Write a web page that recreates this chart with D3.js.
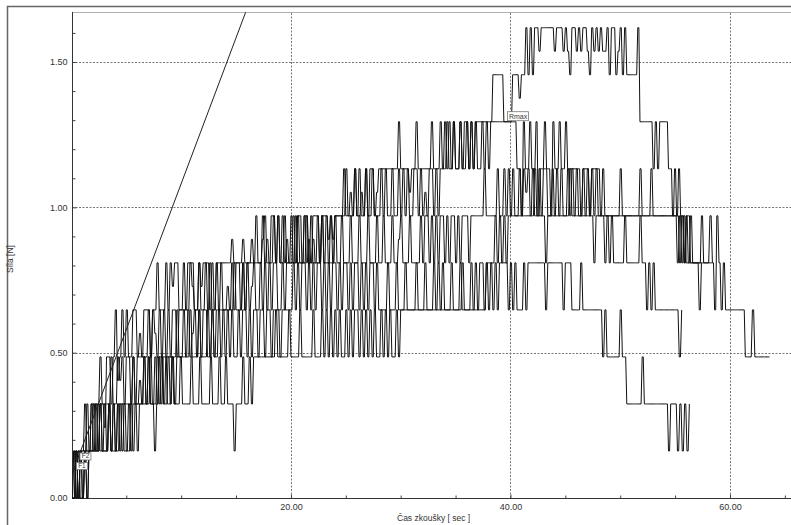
<!DOCTYPE html>
<html><head><meta charset="utf-8">
<script src="https://cdn.jsdelivr.net/npm/d3@7"></script>
<style>
body{margin:0;background:#fff;}
svg{display:block;font-family:"Liberation Sans",Arial,sans-serif;}
</style>
</head><body>
<svg id="c" width="791" height="525"></svg>
<script>
// ---------------- data ----------------
const LEVEL_STEP = 0.1618;            // force quantisation step [N]
const xMajorTicks = [20, 40, 60];
const xMinorTicks = [5, 10, 15, 25, 30, 35, 45, 50, 55, 65];
const yMajorTicks = [0, 0.5, 1.0, 1.5];
const yMinorTicks = [0.1, 0.2, 0.3, 0.4, 0.6, 0.7, 0.8, 0.9, 1.1, 1.2, 1.3, 1.4, 1.6];
const xTitle = "Čas zkoušky [ sec ]";
const yTitle = "Síla [N]";

// each record: [segment start time (s), level indices]
// '0'-'9' = level 0-9, 'a' = level 10, 'A'-'J' = half levels 0.5 … 9.5
const curveA = [
  [0, "001011121222"], [2.4, "232B33234C34343"], [5.4, "3443D34443445"],
  [8, "444545E554454555445E55545455"], [13.6, "55555F5555F555F55"],
  [17, "5565F56656565F565566565F56665656F6566"], [24.4, "66676G67676676776G77"],
  [28.4, "777777787777G77877777787778787878"], [35, "77878878788888888"],
  [38.4, "99999"], [39.4, "8888"], [40.2, "999I9"], [41.2, "9a9a9aaJaa"], [43.2, "aaaaJaa"],
  [44.6, "aJaJ9aaJaJaaJ9aJaJaJJa9aa"], [49.6, "9Ja9a"], [50.6, "99999a"],
  [51.8, "8888887878888"], [54.4, "776767"], [55.5, "66566"], [56.4, "5555565555"],
  [58.4, "5465454"], [59.8, "444444443"], [61.6, "3343333333"]
];
const curveAEnd = 63.6;

const curveB = [
  [0, "010111211212122"], [3, "2223223C323323233"], [6.4, "333434D34343434434"],
  [10, "44445E445445454454544E45455454"], [16, "5555655F6555656556555656556656556566656F"],
  [24, "666676666766G67667666767667667"], [30, "67676677676G67767677"],
  [34, "7877877877878787787878888"], [39, "88888888"],
  [40.6, "7768778778677877687787787"], [45.4, "77777677767777"], [48.2, "6656565"],
  [49.6, "5555655555565"], [52.2, "5454544"], [53.6, "4444444434"]
];
const curveBEnd = 55.6;

const curveC = [
  [0, "00101011"], [1.6, "11212112121212222"], [5, "222322C2323223233233"],
  [9, "3334334343D43434433434444"], [14, "444454445454E54454545455445455"],
  [20, "5565555655F55565555565565556555655565556556555655F65556555"],
  [31.6, "565665656566565665656665666"], [37, "66676666"],
  [38.6, "67667676766767G76676767766767676676767667676767667"],
  [48.6, "66666667666666666666676666666666"], [55, "65656556"], [56.6, "555555565"]
];
const curveCEnd = 58.4;

const curveD = [
  [0, "0010101011"], [2, "11121112121121212122"], [6, "22222322232322323233"],
  [10, "3333433343334343343434343"], [15, "3434434344344344344434444"],
  [20, "4545455454545545454554545545455454545545"],
  [28, "4444544454445444454445444544454445444454"], [36, "4454545"],
  [37.4, "5455556565656"],
  [40, "6666666666766666566666666667666666666656666666666666666666676666666666666666"],
  [55.2, "6565655"], [56.6, "55545"]
];
const curveDEnd = 57.4;

const curveE = [
  [0, "0101001011"], [2, "111211121112121112121"],
  [6.2, "22322321232332232223222232223222232223223222122232"], [16, "2323333"],
  [17.4, "3333334333334333343333343334343434343343434434343434334343433"],
  [29.6, "434444444444444444454444444445444444444"], [37.4, "44545454555"],
  [39.6, "545454445455"], [42, "555555455555554555"], [45.6, "4444544444444"],
  [48.2, "43433333343"], [50.4, "322"], [51, "22222322222222222122"], [55, "2121212"]
];
const curveEEnd = 56.3;

// regression (modulus) line through F1-F2: [time, force]
const modulusLine = [[-0.77, 0], [16.6, 1.744]];
// labelled points
const markerLabels = ["F1", "F2", "Rmax"];
const markerTimes  = [0.46, 0.78, 39.74];
const markerForces = [0.122, 0.155, 1.329];

// ---------------- helpers ----------------
function levelOf(c) {
  if (c === "a") return 10;
  if (c >= "A" && c <= "J") return c.charCodeAt(0) - 65 + 0.5;
  return +c;
}
function expand(segs, tEnd) {
  const pts = [];
  segs.forEach((s, i) => {
    const t0 = s[0], str = s[1], n = str.length;
    const last = i === segs.length - 1;
    const t1 = last ? tEnd : segs[i + 1][0];
    const dt = last ? (t1 - t0) / (n - 1) : (t1 - t0) / n;
    for (let k = 0; k < n; k++) {
      const v = levelOf(str[k]) * LEVEL_STEP;
      const t = t0 + k * dt;
      pts.push([t, v]);
      if (!(last && k === n - 1)) pts.push([t + 0.5 * dt, v]);   // sample hold, then fast ramp
    }
  });
  return pts;
}

// ---------------- drawing ----------------
const W = 791, H = 525;
const plotLeft = 71.4, plotTop = 12.3, plotBottom = 498;
const svg = d3.select("#c");
const x = d3.scaleLinear().domain([0, 65.56]).range([plotLeft, W]);
const y = d3.scaleLinear().domain([0, 1.671]).range([plotBottom, plotTop]);

// outer frame
svg.append("path").attr("d", `M7.5,${H} V6.5 H${W}`)
  .attr("fill", "none").attr("stroke", "#666").attr("stroke-width", 1.5);
// plot top border
svg.append("line").attr("x1", 72).attr("x2", W).attr("y1", 12.5).attr("y2", 12.5)
  .attr("stroke", "#b0b0b0").attr("stroke-width", 1);

// grid
const grid = svg.append("g").attr("stroke", "#777").attr("stroke-dasharray", "2,1.5").attr("stroke-width", 1);
yMajorTicks.filter(d => d > 0).forEach(d => {
  const yy = Math.round(y(d)) + 0.5;
  grid.append("line").attr("x1", 72).attr("x2", W).attr("y1", yy).attr("y2", yy);
});
xMajorTicks.forEach(d => {
  const xx = Math.round(x(d)) + 0.5;
  grid.append("line").attr("x1", xx).attr("x2", xx).attr("y1", 13).attr("y2", plotBottom);
});

// axes
const tickFmt = d3.format(".2f");
const gx = svg.append("g").attr("transform", `translate(0,${plotBottom + 0.5})`)
  .call(d3.axisBottom(x).tickValues(xMajorTicks).tickSize(-4).tickPadding(5).tickFormat(tickFmt));
const gxm = svg.append("g").attr("transform", `translate(0,${plotBottom + 0.5})`)
  .call(d3.axisBottom(x).tickValues(xMinorTicks).tickSize(-3).tickFormat(""));
const gy = svg.append("g").attr("transform", `translate(72.5,0)`)
  .call(d3.axisLeft(y).tickValues(yMajorTicks).tickSize(-4).tickPadding(5).tickFormat(tickFmt));
const gym = svg.append("g").attr("transform", `translate(72.5,0)`)
  .call(d3.axisLeft(y).tickValues(yMinorTicks).tickSize(-3).tickFormat(""));
[gx, gxm, gy, gym].forEach(g => {
  g.select(".domain").remove();
  g.selectAll(".tick line").attr("stroke", "#444");
  g.selectAll("text").attr("font-size", 9).attr("fill", "#333")
    .attr("font-family", '"Liberation Sans",Arial,sans-serif');
});
// axis lines
svg.append("line").attr("x1", 72.5).attr("x2", 72.5).attr("y1", 12).attr("y2", plotBottom + 1)
  .attr("stroke", "#333");
svg.append("line").attr("x1", 72).attr("x2", W).attr("y1", plotBottom + 0.5).attr("y2", plotBottom + 0.5)
  .attr("stroke", "#333");

// titles
svg.append("text").attr("x", 397).attr("y", 521).attr("font-size", 8.5).attr("fill", "#333")
  .text(xTitle);
svg.append("text").attr("transform", "translate(13,259) rotate(-90)").attr("text-anchor", "middle")
  .attr("font-size", 8.5).attr("fill", "#333").text(yTitle);

// clip
svg.append("defs").append("clipPath").attr("id", "plot")
  .append("rect").attr("x", 72.5).attr("y", plotTop).attr("width", W - 72.5).attr("height", plotBottom - plotTop + 1);

const plot = svg.append("g").attr("clip-path", "url(#plot)");
const line = d3.line().x(d => x(d[0])).y(d => y(d[1]));

const curves = [
  expand(curveE, curveEEnd), expand(curveD, curveDEnd), expand(curveC, curveCEnd),
  expand(curveB, curveBEnd), expand(curveA, curveAEnd)
];
plot.selectAll("path.trace").data(curves).enter().append("path")
  .attr("class", "trace").attr("d", line)
  .attr("fill", "none").attr("stroke", "#111").attr("stroke-width", 1);

plot.append("path").attr("d", line(modulusLine))
  .attr("fill", "none").attr("stroke", "#222").attr("stroke-width", 1);

// markers
markerLabels.forEach((lab, i) => {
  const px = x(markerTimes[i]), py = y(markerForces[i]);
  const g = svg.append("g").attr("transform", `translate(${px},${py})`);
  const w = lab.length > 2 ? 21 : 11, h = lab.length > 2 ? 9 : 7;
  g.append("rect").attr("width", w).attr("height", h).attr("fill", "#fff")
    .attr("stroke", "#777").attr("stroke-width", 0.8);
  g.append("text").attr("x", w / 2).attr("y", h - 1.5).attr("text-anchor", "middle")
    .attr("font-size", lab.length > 2 ? 7 : 6.5).attr("fill", "#333").text(lab);
});
</script>
</body></html>
